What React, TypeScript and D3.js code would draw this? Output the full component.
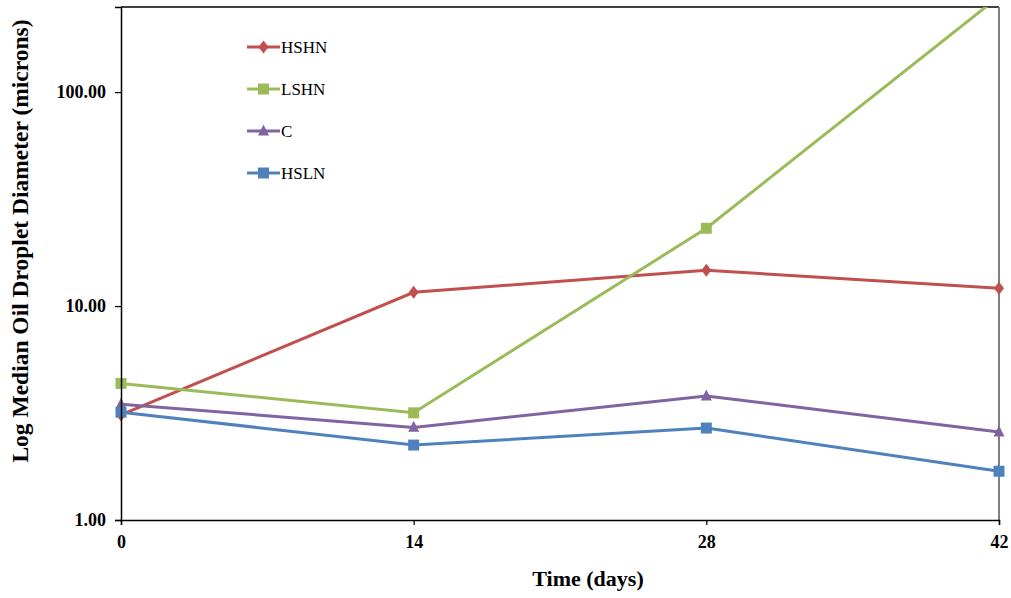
import React, { useEffect, useRef } from 'react'
import * as d3 from 'd3'

// time points (days)
const days = [0, 14, 28, 42]
const xTicks = [0, 14, 28, 42]
const yTicks = [1, 10, 100]

// median droplet diameter (microns)
const hshn = [3.1, 11.6, 14.7, 12.1]
const lshn = [4.35, 3.17, 23.1, 280]
const control = [3.48, 2.71, 3.8, 2.58]
const hsln = [3.19, 2.24, 2.69, 1.69]

const seriesNames = ['HSHN', 'LSHN', 'C', 'HSLN']
const seriesColors = ['#C0504D', '#9BBB59', '#8064A2', '#4F81BD']
const seriesMarkers = ['diamond', 'square', 'triangle', 'square']

const W = 1011
const H = 598
const margin = { top: 7, right: 12, bottom: 78, left: 121 }

function markerPath(kind: string) {
  if (kind === 'diamond') return 'M0,-6.5L5,0L0,6.5L-5,0Z'
  if (kind === 'triangle') return 'M0,-6.5L5.5,4.5L-5.5,4.5Z'
  return 'M-5.5,-5.5H5.5V5.5H-5.5Z'
}

export default function App() {
  const ref = useRef<SVGSVGElement>(null)

  useEffect(() => {
    const svg = d3.select(ref.current)
    svg.selectAll('*').remove()

    const x = d3.scaleLinear().domain([0, 42]).range([margin.left, W - margin.right])
    const y = d3.scaleLog().domain([1, 250]).range([H - margin.bottom, margin.top])

    const font = "'Liberation Serif', 'Times New Roman', serif"

    svg.append('defs').append('clipPath').attr('id', 'plotclip')
      .append('rect')
      .attr('x', 0).attr('y', margin.top)
      .attr('width', W).attr('height', H - margin.top)

    // frame: top black, right grey
    svg.append('line')
      .attr('x1', margin.left).attr('x2', W - margin.right)
      .attr('y1', margin.top).attr('y2', margin.top)
      .attr('stroke', '#000').attr('stroke-width', 1.5)
    svg.append('line')
      .attr('x1', W - margin.right).attr('x2', W - margin.right)
      .attr('y1', margin.top).attr('y2', H - margin.bottom)
      .attr('stroke', '#808080').attr('stroke-width', 2)

    const data = [hshn, lshn, control, hsln]
    const line = d3.line<number>()
      .x((d, i) => x(days[i]))
      .y(d => y(d))

    const g = svg.append('g').attr('clip-path', 'url(#plotclip)')
    data.forEach((vals, k) => {
      g.append('path')
        .datum(vals)
        .attr('fill', 'none')
        .attr('stroke', seriesColors[k])
        .attr('stroke-width', 3)
        .attr('d', line)
    })
    data.forEach((vals, k) => {
      g.selectAll('.m' + k)
        .data(vals)
        .enter().append('path')
        .attr('transform', (d, i) => 'translate(' + x(days[i]) + ',' + y(d) + ')')
        .attr('d', markerPath(seriesMarkers[k]))
        .attr('fill', seriesColors[k])
    })

    // axes
    const yAxis = svg.append('g')
      .attr('transform', 'translate(' + margin.left + ',0)')
      .call(d3.axisLeft(y).tickValues(yTicks).tickFormat(d3.format('.2f')).tickSize(6).tickPadding(9))
    const xAxis = svg.append('g')
      .attr('transform', 'translate(0,' + (H - margin.bottom) + ')')
      .call(d3.axisBottom(x).tickValues(xTicks).tickSize(5).tickPadding(10))

    ;[yAxis, xAxis].forEach(a => {
      a.select('.domain').attr('stroke', '#000').attr('stroke-width', 1.5)
      a.selectAll('.tick line').attr('stroke', '#000').attr('stroke-width', 1.2)
      a.selectAll('text')
        .attr('fill', '#000')
        .style('font-family', font)
        .style('font-weight', 'bold')
        .style('font-size', '18px')
    })

    // axis titles
    svg.append('text')
      .attr('transform', 'translate(28,241) rotate(-90)')
      .attr('text-anchor', 'middle')
      .style('font-family', font)
      .style('font-weight', 'bold')
      .style('font-size', '23.5px')
      .text('Log Median Oil Droplet Diameter (microns)')
    svg.append('text')
      .attr('x', 588).attr('y', 586)
      .attr('text-anchor', 'middle')
      .style('font-family', font)
      .style('font-weight', 'bold')
      .style('font-size', '22px')
      .text('Time (days)')

    // legend
    const legend = svg.append('g').attr('transform', 'translate(247,47)')
    seriesNames.forEach((name, k) => {
      const row = legend.append('g').attr('transform', 'translate(0,' + k * 42 + ')')
      row.append('line')
        .attr('x1', 0).attr('x2', 33)
        .attr('stroke', seriesColors[k]).attr('stroke-width', 3)
      row.append('path')
        .attr('transform', 'translate(16.5,0)')
        .attr('d', markerPath(seriesMarkers[k]))
        .attr('fill', seriesColors[k])
      row.append('text')
        .attr('x', 34).attr('y', 6)
        .style('font-family', font)
        .style('font-size', '17px')
        .text(name)
    })
  }, [])

  return (
    <svg ref={ref} width={W} height={H}
      style={{ position: 'absolute', left: 0, top: 0, background: '#fff' }} />
  )
}
